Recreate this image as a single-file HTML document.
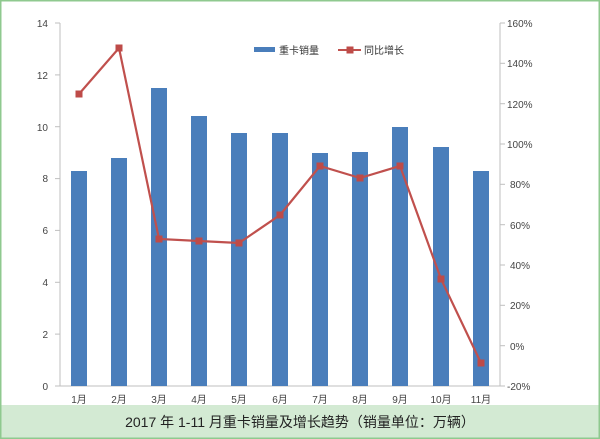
<!DOCTYPE html>
<html><head><meta charset="utf-8"><style>
html,body{margin:0;padding:0;background:#fff}
svg{display:block}
text{font-family:"Liberation Sans","Noto Sans CJK SC",sans-serif}
</style></head><body>
<svg width="600" height="439" viewBox="0 0 600 439" xmlns="http://www.w3.org/2000/svg">
<rect x="0" y="0" width="600" height="439" fill="#fff"/>
<rect x="0" y="405" width="600" height="34" fill="#d3ead3"/>
<rect x="0.75" y="0.75" width="598.5" height="437.5" fill="none" stroke="#8fc98f" stroke-width="1.5"/>
<text x="300" y="427" font-size="14" text-anchor="middle" fill="#222">2017 年 1-11 月重卡销量及增长趋势（销量单位：万辆）</text>
<!-- axes -->
<g stroke="#bfbfbf" stroke-width="1">
<line x1="60" y1="23" x2="60" y2="386"/>
<line x1="500" y1="23" x2="500" y2="386"/>
<line x1="60" y1="386" x2="500" y2="386"/>
</g>
<g stroke="#bfbfbf" stroke-width="1">
<line x1="55" y1="386" x2="60" y2="386"/><line x1="55" y1="334.1" x2="60" y2="334.1"/><line x1="55" y1="282.3" x2="60" y2="282.3"/><line x1="55" y1="230.4" x2="60" y2="230.4"/><line x1="55" y1="178.6" x2="60" y2="178.6"/><line x1="55" y1="126.7" x2="60" y2="126.7"/><line x1="55" y1="74.9" x2="60" y2="74.9"/><line x1="55" y1="23" x2="60" y2="23"/>
<line x1="500" y1="386" x2="505" y2="386"/><line x1="500" y1="345.7" x2="505" y2="345.7"/><line x1="500" y1="305.3" x2="505" y2="305.3"/><line x1="500" y1="265" x2="505" y2="265"/><line x1="500" y1="224.7" x2="505" y2="224.7"/><line x1="500" y1="184.3" x2="505" y2="184.3"/><line x1="500" y1="144" x2="505" y2="144"/><line x1="500" y1="103.7" x2="505" y2="103.7"/><line x1="500" y1="63.3" x2="505" y2="63.3"/><line x1="500" y1="23" x2="505" y2="23"/>
</g>
<g font-size="10" fill="#444" text-anchor="end">
<text x="48" y="390">0</text><text x="48" y="338">2</text><text x="48" y="286">4</text><text x="48" y="234">6</text><text x="48" y="182">8</text><text x="48" y="131">10</text><text x="48" y="79">12</text><text x="48" y="27">14</text>
</g>
<g font-size="10" fill="#444">
<text x="507" y="390">-20%</text><text x="510" y="350">0%</text><text x="510" y="309">20%</text><text x="510" y="269">40%</text><text x="510" y="229">60%</text><text x="510" y="188">80%</text><text x="507" y="148">100%</text><text x="507" y="108">120%</text><text x="507" y="67">140%</text><text x="507" y="27">160%</text>
</g>
<g font-size="10" fill="#444" text-anchor="middle">
<text x="79" y="403">1月</text><text x="119" y="403">2月</text><text x="159" y="403">3月</text><text x="199" y="403">4月</text><text x="239" y="403">5月</text><text x="280" y="403">6月</text><text x="320" y="403">7月</text><text x="360" y="403">8月</text><text x="400" y="403">9月</text><text x="441" y="403">10月</text><text x="481" y="403">11月</text>
</g>
<!-- bars -->
<g fill="#4a7ebb">
<rect x="71" y="171" width="16" height="215"/>
<rect x="111" y="158" width="16" height="228"/>
<rect x="151" y="88" width="16" height="298"/>
<rect x="191" y="116" width="16" height="270"/>
<rect x="231" y="133" width="16" height="253"/>
<rect x="272" y="133" width="16" height="253"/>
<rect x="312" y="153" width="16" height="233"/>
<rect x="352" y="152" width="16" height="234"/>
<rect x="392" y="127" width="16" height="259"/>
<rect x="433" y="147" width="16" height="239"/>
<rect x="473" y="171" width="16" height="215"/>
</g>
<polyline fill="none" stroke="#c0504d" stroke-width="2.2" points="79,94 119,48 159,239 199,241 239,243 280,215 320,166 360,178 400,166 441,279 481,363"/>
<g fill="#be4b48">
<rect x="75.5" y="90.5" width="7" height="7"/><rect x="115.5" y="44.5" width="7" height="7"/><rect x="155.5" y="235.5" width="7" height="7"/><rect x="195.5" y="237.5" width="7" height="7"/><rect x="235.5" y="239.5" width="7" height="7"/><rect x="276.5" y="211.5" width="7" height="7"/><rect x="316.5" y="162.5" width="7" height="7"/><rect x="356.5" y="174.5" width="7" height="7"/><rect x="396.5" y="162.5" width="7" height="7"/><rect x="437.5" y="275.5" width="7" height="7"/><rect x="477.5" y="359.5" width="7" height="7"/>
</g>
<!-- legend -->
<rect x="254" y="47" width="21" height="5" fill="#4a7ebb"/>
<text x="279" y="54" font-size="10" fill="#333">重卡销量</text>
<line x1="338" y1="50" x2="361" y2="50" stroke="#c0504d" stroke-width="2"/>
<rect x="346.5" y="46.5" width="7" height="7" fill="#be4b48"/>
<text x="364" y="54" font-size="10" fill="#333">同比增长</text>
</svg>
</body></html>
